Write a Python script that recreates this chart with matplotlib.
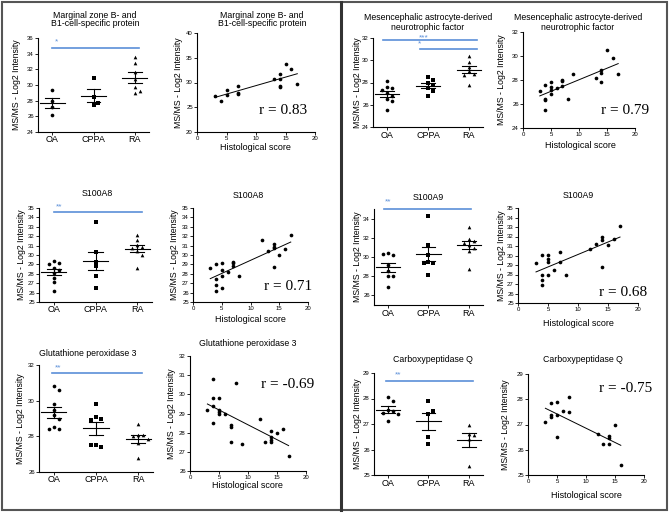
import numpy as np
import matplotlib
matplotlib.use("Agg")
import matplotlib.pyplot as plt
from matplotlib.lines import Line2D
from matplotlib.patches import Rectangle

plt.rcParams['font.family'] = ['Liberation Sans', 'DejaVu Sans']

W, H = 670, 515
groups = ["OA", "CPPA", "RA"]

# group values (MS/MS - Log2 intensity)
mzb_oa = [29.3, 28.0, 27.2, 26.2]
mzb_cppa = [30.9, 28.5, 27.5, 27.7]
mzb_ra = [33.6, 32.8, 31.6, 30.8, 29.7, 29.0, 29.2]
manf_oa = [28.1, 27.6, 27.5, 27.3, 27.1, 26.8, 26.5, 26.3, 25.5]
manf_cppa = [28.5, 28.2, 28.0, 27.8, 27.5, 27.2, 26.8]
manf_ra = [30.4, 29.8, 29.4, 29.0, 28.8, 28.7, 27.8]
a8_oa = [29.4, 29.1, 29.0, 28.6, 28.4, 28.1, 27.6, 27.1, 26.2]
a8_cppa = [33.5, 30.3, 29.3, 28.8, 27.8, 26.5]
a8_ra = [32.1, 31.6, 31.1, 30.9, 30.7, 30.4, 30.0, 28.6]
a9_oa = [30.4, 30.2, 30.3, 29.2, 28.5, 28.0, 28.0, 26.9]
a9_cppa = [34.3, 31.2, 30.2, 29.5, 29.4, 29.4, 28.1]
a9_ra = [33.1, 31.9, 31.7, 31.5, 31.3, 30.9, 30.6, 28.8]
gpx_oa = [30.8, 30.6, 29.8, 29.5, 29.2, 29.0, 28.5, 28.4, 28.4]
gpx_cppa = [29.8, 29.1, 29.0, 28.9, 27.5, 27.4, 27.5]
gpx_ra = [28.7, 28.1, 28.05, 28.0, 27.85, 27.6, 26.8]
cpq_oa = [28.06, 27.9, 27.55, 27.5, 27.45, 27.4, 27.1]
cpq_cppa = [27.9, 27.4, 27.5, 26.5, 26.2]
cpq_ra = [26.95, 26.6, 26.55, 26.4, 25.35]

# histological score vs intensity
mzb_hx = [3, 4, 5, 5, 7, 7, 7, 13, 14, 14, 14, 14, 15, 16, 17]
mzb_hy = [27.3, 26.3, 28.5, 27.5, 29.3, 27.9, 27.7, 30.8, 31.8, 30.8, 29.2, 29.0, 33.7, 32.8, 29.7]
manf_hx = [3, 4, 4, 4, 4, 5, 5, 5, 5, 6, 7, 7, 7, 8, 9, 13, 14, 14, 14, 15, 16, 17]
manf_hy = [27.1, 27.6, 26.4, 26.3, 25.5, 27.8, 27.4, 27.2, 26.8, 27.3, 28.0, 27.9, 27.5, 26.4, 28.5,
           28.2, 28.8, 28.6, 27.8, 30.5, 29.8, 28.5]
a8_hx = [3, 4, 4, 4, 4, 5, 5, 5, 5, 6, 7, 7, 7, 8, 12, 13, 14, 14, 14, 14, 15, 16, 17]
a8_hy = [28.6, 29.0, 27.5, 26.8, 26.2, 29.2, 28.4, 27.8, 26.5, 28.2, 29.3, 29.1, 28.8, 27.8, 31.6,
         30.4, 31.2, 30.9, 30.7, 28.7, 30.0, 30.6, 32.1]
a9_hx = [3, 4, 4, 4, 4, 5, 5, 5, 5, 6, 7, 7, 8, 12, 13, 14, 14, 14, 15, 16, 17]
a9_hy = [29.2, 30.1, 28.0, 27.4, 26.9, 30.1, 29.6, 29.3, 28.0, 28.5, 30.4, 29.3, 28.0, 30.7,
         31.2, 31.9, 31.6, 28.8, 31.1, 31.7, 33.1]
gpx_hx = [3, 4, 4, 4, 4, 5, 5, 5, 5, 6, 7, 7, 7, 8, 9, 12, 13, 14, 14, 14, 14, 15, 16, 17]
gpx_hy = [29.2, 30.8, 29.8, 29.4, 28.5, 29.8, 29.1, 29.0, 29.2, 29.0, 28.4, 28.3, 27.5, 30.6, 27.4,
          28.7, 27.5, 28.1, 27.8, 27.6, 27.5, 28.0, 28.2, 26.8]
cpq_hx = [3, 4, 4, 4, 5, 5, 5, 6, 7, 7, 12, 13, 14, 14, 14, 15, 16]
cpq_hy = [27.1, 27.87, 27.38, 27.3, 27.89, 27.38, 26.52, 27.52, 28.07, 27.49, 26.62, 26.22,
          26.55, 26.45, 26.23, 26.99, 25.4]

BLUE = "#5b8fd8"

fig = plt.figure(figsize=(W / 100, H / 100), dpi=100)


def px_axes(l, t, r, b):
    return fig.add_axes([l / W, 1 - b / H, (r - l) / W, (b - t) / H])


def ftext(x, y, s, **kw):
    return fig.text(x / W, 1 - y / H, s, **kw)


def style(ax, ylim, yticks):
    for side in ("top", "right"):
        ax.spines[side].set_visible(False)
    for side in ("left", "bottom"):
        ax.spines[side].set_linewidth(0.8)
    ax.set_ylim(*ylim)
    ax.set_yticks(yticks)
    ax.tick_params(length=2, width=0.6, labelsize=4.3, pad=1, direction="out")


def swarm(vals, thr):
    # spread points with similar values sideways, prism style
    placed = []
    offs = []
    cands = [0, 0.12, -0.12, 0.24, -0.24, 0.34, -0.34]
    for v in vals:
        for c in cands:
            if all(abs(v - pv) >= thr or abs(c - pc) >= 0.11 for pv, pc in placed):
                break
        placed.append((v, c))
        offs.append(c)
    return np.array(offs)


def dot_panel(box, data, ylim, yticks, title, title_xy, ylab_x, lab_y, sigs):
    l, t, r, b = box
    ax = px_axes(l, t, r, b)
    style(ax, ylim, yticks)
    ax.set_xlim(-0.35, 2.35)
    ax.set_xticks([0, 1, 2])
    ax.set_xticklabels([])
    ax.tick_params(axis="x", length=2.5)
    markers = ["o", "s", "^"]
    thr = 0.045 * (ylim[1] - ylim[0])
    for i, vals in enumerate(data):
        vals = np.array(vals)
        xs = i + swarm(vals, thr)
        ax.scatter(xs, vals, marker=markers[i], s=7, color="black", linewidths=0, zorder=3)
        m = vals.mean()
        se = vals.std(ddof=1) / np.sqrt(len(vals))
        ax.plot([i - 0.3, i + 0.3], [m, m], color="black", lw=0.8)
        ax.plot([i - 0.17, i + 0.17], [m + se, m + se], color="black", lw=0.8)
        ax.plot([i - 0.17, i + 0.17], [m - se, m - se], color="black", lw=0.8)
        ax.plot([i, i], [m - se, m + se], color="black", lw=0.8)
    for i, g in enumerate(groups):
        xp = l + (i + 0.35) / 2.7 * (r - l)
        ftext(xp, lab_y, g, ha="center", va="center", fontsize=6.5)
    for x0, x1, yv, stars, sx, sy in sigs:
        ax.plot([x0, x1], [yv, yv], color=BLUE, lw=1.2, clip_on=False)
        ftext(sx, sy, stars, ha="left", va="center", fontsize=6, color=BLUE)
    for k, line in enumerate(title):
        ftext(title_xy[0], title_xy[1] + 9 * k, line, ha="center", va="center", fontsize=6.3)
    ftext(ylab_x, (t + b) / 2, "MS/MS - Log2 Intensity", rotation=90, ha="center", va="center",
          fontsize=6.3)
    return ax


def reg_panel(box, hx, hy, ylim, yticks, title, title_xy, ylab_x, xlab_xy, r_txt, r_xy):
    l, t, r, b = box
    ax = px_axes(l, t, r, b)
    style(ax, ylim, yticks)
    ax.set_xlim(0, 20)
    ax.set_xticks([0, 5, 10, 15, 20])
    hx = np.array(hx, dtype=float)
    hy = np.array(hy, dtype=float)
    ax.scatter(hx, hy, s=7, color="black", linewidths=0, zorder=3)
    k, c = np.polyfit(hx, hy, 1)
    xl = np.array([hx.min(), hx.max()])
    ax.plot(xl, k * xl + c, color="black", lw=0.7)
    for j, line in enumerate(title):
        ftext(title_xy[0], title_xy[1] + 9 * j, line, ha="center", va="center", fontsize=6.3)
    ftext(ylab_x, (t + b) / 2, "MS/MS - Log2 Intensity", rotation=90, ha="center", va="center",
          fontsize=6.3)
    ftext(xlab_xy[0], xlab_xy[1], "Histological score", ha="center", va="center", fontsize=6.5)
    ftext(r_xy[0], r_xy[1], r_txt, ha="center", va="center", fontsize=11,
          family=["Liberation Serif", "DejaVu Serif"])
    return ax


mzb_title = ["Marginal zone B- and", "B1-cell-specific protein"]
manf_title = ["Mesencephalic astrocyte-derived", "neurotrophic factor"]

# row 1
dot_panel((38, 38, 149, 132), [mzb_oa, mzb_cppa, mzb_ra], (24, 36), range(24, 37, 2),
          mzb_title, (95, 15), 17, 139, [(0.0, 2.1, 34.7, "*", 55, 42)])
reg_panel((197, 33, 315, 132), mzb_hx, mzb_hy, (20, 40), range(20, 41, 5),
          mzb_title, (262, 15), 178, (255, 148), "r = 0.83", (283, 110))
dot_panel((373, 38, 483, 127), [manf_oa, manf_cppa, manf_ra], (24, 32), range(24, 33, 2),
          manf_title, (428, 18), 357, 136,
          [(-0.1, 2.2, 31.8, "***", 419, 38), (0.8, 2.2, 31.0, "*", 418, 44)])
reg_panel((523, 32, 635, 128), manf_hx, manf_hy, (24, 32), range(24, 33, 2),
          manf_title, (578, 18), 502, (580, 146), "r = 0.79", (625, 110))

# row 2
dot_panel((39, 208, 152, 302), [a8_oa, a8_cppa, a8_ra], (25, 35), range(25, 36),
          ["S100A8"], (97, 194), 22, 310, [(0.0, 2.1, 34.6, "**", 56, 207)])
reg_panel((193, 208, 308, 302), a8_hx, a8_hy, (25, 35), range(25, 36),
          ["S100A8"], (248, 195), 175, (250, 320), "r = 0.71", (288, 287))
dot_panel((374, 209, 483, 305), [a9_oa, a9_cppa, a9_ra], (25, 35), range(26, 35, 2),
          ["S100A9"], (428, 198), 357, 313, [(-0.1, 2.05, 35.05, "**", 385, 202)])
reg_panel((518, 208, 638, 303), a9_hx, a9_hy, (25, 35), range(25, 36),
          ["S100A9"], (578, 195), 502, (578, 324), "r = 0.68", (623, 293))

# row 3
dot_panel((39, 365, 153, 472), [gpx_oa, gpx_cppa, gpx_ra], (26, 32), range(26, 33, 2),
          ["Glutathione peroxidase 3"], (88, 353), 21, 480, [(-0.05, 2.1, 31.55, "**", 55, 368)])
reg_panel((190, 356, 306, 471), gpx_hx, gpx_hy, (26, 32), range(26, 33),
          ["Glutathione peroxidase 3"], (248, 344), 171, (247, 486), "r = -0.69", (288, 385))
dot_panel((374, 373, 483, 475), [cpq_oa, cpq_cppa, cpq_ra], (25, 29), range(25, 30),
          ["Carboxypeptidase Q"], (433, 360), 357, 484, [(-0.05, 2.1, 28.7, "**", 395, 375)])
reg_panel((528, 374, 644, 475), cpq_hx, cpq_hy, (25, 29), range(25, 30),
          ["Carboxypeptidase Q"], (583, 360), 506, (586, 495), "r = -0.75", (626, 389))

# panel frames
fig.add_artist(Rectangle((2 / W, 1 - 510 / H), 665 / W, 508 / H, transform=fig.transFigure,
                         fill=False, edgecolor="#555555", lw=1.5))
fig.add_artist(Line2D([341 / W, 341 / W], [1 - 510 / H, 1 - 2 / H], transform=fig.transFigure,
                      color="#333333", lw=2.2))

fig.savefig("out.png", dpi=100)
